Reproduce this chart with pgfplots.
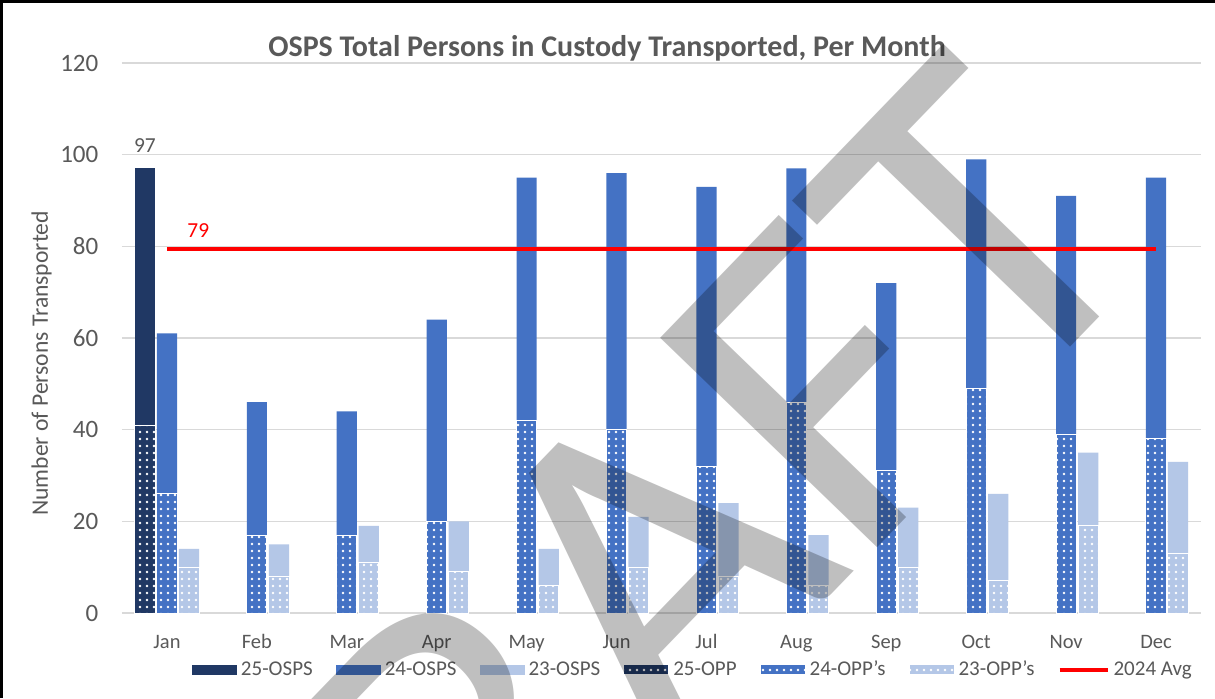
\documentclass[border=0pt]{standalone}
\usepackage{pgfplots}
\pgfplotsset{compat=1.18}
\usepackage{fontspec}
\setmainfont{Carlito}
\usetikzlibrary{patterns.meta}
\definecolor{c25}{HTML}{203864}
\definecolor{c24}{HTML}{4472C4}
\definecolor{c23}{HTML}{B4C7E7}
\definecolor{txt}{HTML}{595959}
\definecolor{grd}{HTML}{D9D9D9}
\pgfplotsset{
  barkey/.style={legend image code/.code={\path[##1] (0pt,-2.5pt) rectangle (22.5pt,2.5pt);}},
  linekey/.style={legend image code/.code={\draw[##1] (0pt,0pt) -- (24pt,0pt);}},
  b25/.style={ybar, bar width=0.225, bar shift=-0.245, barkey},
  b24/.style={ybar, bar width=0.225, bar shift=0, barkey},
  b23/.style={ybar, bar width=0.225, bar shift=0.245, barkey},
  dotted bar/.style={draw=white, line width=0.5pt, postaction={pattern={Dots[distance=3.5pt, radius=0.65pt]}, pattern color=white}},
}
\begin{document}
\begin{tikzpicture}
\useasboundingbox (-61pt,-42.5pt) rectangle (546.5pt,306.5pt);
\fill[white] (-61pt,-42.5pt) rectangle (546.5pt,306.5pt);
\begin{axis}[
  at={(0,0)}, anchor=south west,
  scale only axis, width=539.5pt, height=275pt,
  xmin=-0.5, xmax=11.5, ymin=0, ymax=120,
  axis line style={draw=none},
  tick style={draw=none},
  ymajorgrids, grid style={grd, line width=0.75pt},
  xtick={0,...,11},
  xticklabels={Jan,Feb,Mar,Apr,May,Jun,Jul,Aug,Sep,Oct,Nov,Dec},
  ytick={0,20,...,120},
  /pgf/number format/assume math mode=true,
  yticklabel style={font=\fontsize{12.5}{15}\selectfont, text=txt, xshift=-8.3pt},
  xticklabel style={font=\fontsize{10.25}{12}\selectfont, text=txt, anchor=base, yshift=-17.8pt},
  ylabel={Number of Persons Transported},
  every axis y label/.style={at={(axis description cs:-0.0686,0.4536)}, rotate=90, anchor=base, font=\fontsize{11.8}{14}\selectfont, text=txt},
  title={OSPS Total Persons in Custody Transported, Per Month},
  every axis title/.style={at={(axis description cs:0.4495,1.0115)}, anchor=base, font=\bfseries\fontsize{15}{18}\selectfont, text=txt},
  legend style={at={(axis description cs:0.5300,-0.1036)}, anchor=center, draw=none, fill=none,
    legend columns=-1, font=\fontsize{10.5}{12}\selectfont, text=txt,
    /tikz/every even column/.append style={column sep=9.5pt}},
]
% totals (OSPS)
\addplot[b25, fill=c25, draw=none, nodes near coords,
  nodes near coords style={anchor=base, xshift=-11pt, yshift=8pt, text=txt, font=\fontsize{10.7}{12}\selectfont}]
  coordinates {(0,97)};
\addlegendentry{25-OSPS}
\addplot[b24, fill=c24, draw=none] coordinates {
(0,61) (1,46) (2,44) (3,64) (4,95) (5,96) (6,93) (7,97) (8,72) (9,99) (10,91) (11,95)};
\addlegendentry{24-OSPS}
\addplot[b23, fill=c23, draw=none] coordinates {
(0,14) (1,15) (2,19) (3,20) (4,14) (5,21) (6,24) (7,17) (8,23) (9,26) (10,35) (11,33)};
\addlegendentry{23-OSPS}
% OPP
\addplot[b25, fill=c25, dotted bar] coordinates {(0,41)};
\addlegendentry{25-OPP}
\addplot[b24, fill=c24, dotted bar] coordinates {
(0,26) (1,17) (2,17) (3,20) (4,42) (5,40) (6,32) (7,46) (8,31) (9,49) (10,39) (11,38)};
\addlegendentry{24-OPP's}
\addplot[b23, fill=c23, dotted bar] coordinates {
(0,10) (1,8) (2,11) (3,9) (4,6) (5,10) (6,8) (7,6) (8,10) (9,7) (10,19) (11,13)};
\addlegendentry{23-OPP's}
\addplot[red, line width=2pt, mark=none, linekey]
  coordinates {(0,79.4) (11,79.4)};
\addlegendentry{2024 Avg}
\node[text=red, anchor=base west, inner sep=0pt, yshift=6pt, font=\fontsize{10.7}{12}\selectfont] at (axis cs:0.224,79.4) {79};
\end{axis}
% watermark
\node[rotate=46, text=black, text opacity=0.25, inner sep=0pt, font=\fontsize{235}{235}\selectfont] at (248pt,7pt) {DRAFT};
% frame
\draw[black, line width=1.5pt] (-60.25pt,-42.5pt) -- (-60.25pt,305.75pt) -- (546.5pt,305.75pt);
\end{tikzpicture}
\end{document}
